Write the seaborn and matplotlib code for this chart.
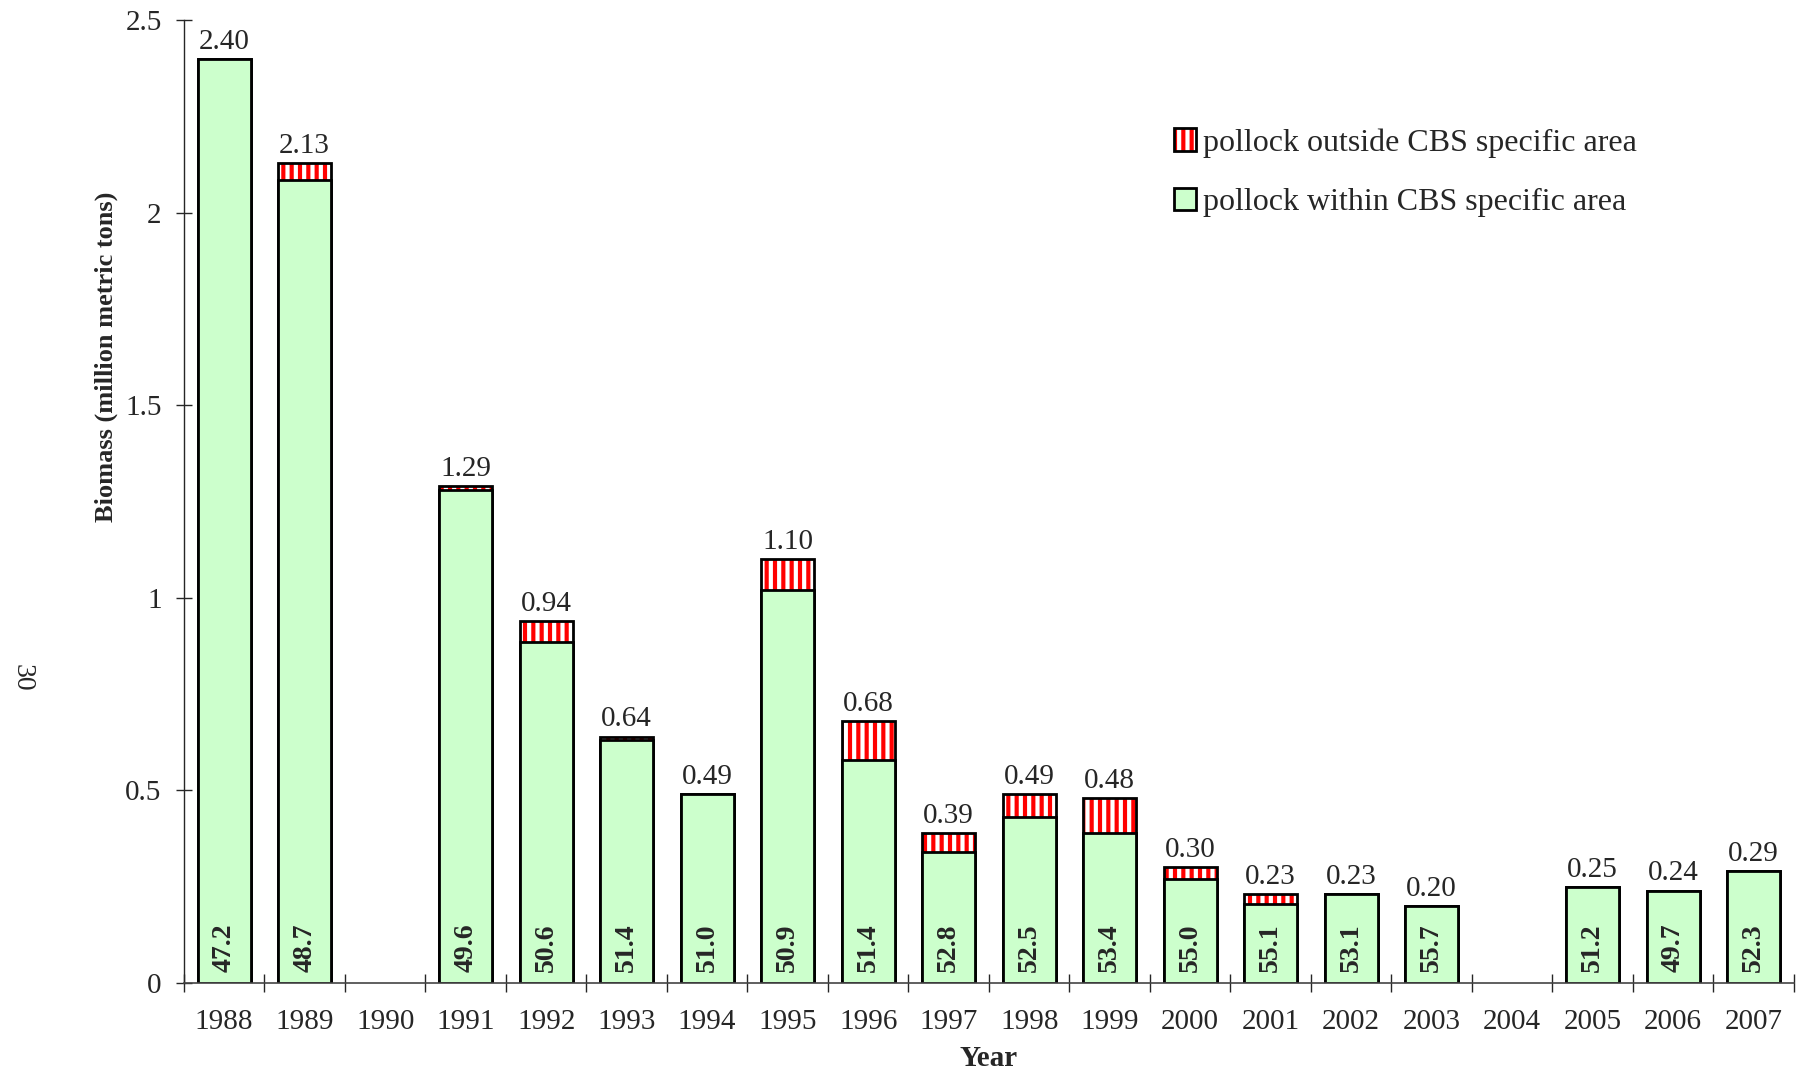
import matplotlib
matplotlib.use("Agg")
import matplotlib.pyplot as plt
import seaborn as sns
import numpy as np
from matplotlib.patches import Patch
from matplotlib.legend_handler import HandlerTuple

# Data
years = ['1988', '1989', '1990', '1991', '1992', '1993', '1994', '1995', '1996', '1997',
         '1998', '1999', '2000', '2001', '2002', '2003', '2004', '2005', '2006', '2007']
total = [2.40, 2.13, np.nan, 1.29, 0.94, 0.64, 0.49, 1.10, 0.68, 0.39,
         0.49, 0.48, 0.30, 0.23, 0.23, 0.20, np.nan, 0.25, 0.24, 0.29]
within = [2.40, 2.085, np.nan, 1.28, 0.885, 0.63, 0.49, 1.02, 0.58, 0.34,
          0.43, 0.39, 0.27, 0.205, 0.23, 0.20, np.nan, 0.25, 0.24, 0.29]
pct = ['47.2', '48.7', '', '49.6', '50.6', '51.4', '51.0', '50.9', '51.4', '52.8',
       '52.5', '53.4', '55.0', '55.1', '53.1', '55.7', '', '51.2', '49.7', '52.3']

sns.set_style("ticks")
plt.rcParams['font.family'] = ['Liberation Serif', 'DejaVu Serif']
plt.rcParams['hatch.linewidth'] = 3.0

green = '#ccffcc'
bw = 0.66

fig = plt.figure(figsize=(18.03, 10.69), dpi=100)
ax = fig.add_axes([0.102, 0.0805, 0.893, 0.9005])

# outside part (red with white stripes), drawn as full total bar
sns.barplot(x=years, y=total, order=years, color='red', saturation=1, width=bw,
            errorbar=None, edgecolor='white', linewidth=0, hatch='||', ax=ax)
# black outline of total bar
sns.barplot(x=years, y=total, order=years, color='black', fill=False, width=bw,
            errorbar=None, linewidth=2, ax=ax)
# within part
sns.barplot(x=years, y=within, order=years, color=green, saturation=1, width=bw,
            errorbar=None, edgecolor='black', linewidth=2, ax=ax)

for i, (t, p) in enumerate(zip(total, pct)):
    if np.isnan(t):
        continue
    ax.annotate(f"{t:.2f}", (i, t), xytext=(0, 3), textcoords='offset points',
                ha='center', va='bottom', fontsize=21)
    ax.annotate(p, (i, 0), xytext=(0, 8), textcoords='offset points',
                ha='center', va='bottom', rotation=90, fontsize=20, fontweight='bold')

ax.set_xlim(-0.5, len(years) - 0.5)
ax.set_ylim(0, 2.5)
ax.set_yticks([0, 0.5, 1, 1.5, 2, 2.5])
ax.set_yticklabels(['0', '0.5', '1', '1.5', '2', '2.5'])
ax.set_xticks(range(len(years)))
ax.set_xticks(np.arange(-0.5, len(years), 1), minor=True)
ax.tick_params(axis='x', which='major', length=0, pad=19, labelsize=21)
ax.tick_params(axis='x', which='minor', direction='inout', length=13, width=1)
ax.tick_params(axis='y', direction='inout', length=12, width=1, pad=10, labelsize=21)
sns.despine(ax=ax)
ax.spines['left'].set_linewidth(1)
ax.spines['bottom'].set_linewidth(1.2)
ax.spines['bottom'].set_color('#444444')

ax.set_xlabel('Year', fontsize=21, fontweight='bold')
ax.xaxis.set_label_coords(0.5, -0.064)
ax.set_ylabel('Biomass (million metric tons)', fontsize=19, fontweight='bold')
ax.yaxis.set_label_coords(-0.041, 0.65)

h_out = (Patch(facecolor='red', edgecolor='white', hatch='||', linewidth=0),
         Patch(facecolor='none', edgecolor='black', linewidth=2))
h_in = Patch(facecolor=green, edgecolor='black', linewidth=2)
fig.legend([h_out, h_in],
           ['pollock outside CBS specific area', 'pollock within CBS specific area'],
           handler_map={tuple: HandlerTuple(ndivide=1, pad=0)},
           loc='upper left', bbox_to_anchor=(0.651, 0.88), frameon=False,
           fontsize=23, handlelength=0.7, handleheight=0.7, handletextpad=0.2,
           labelspacing=0.95, borderpad=0, borderaxespad=0)

fig.text(0.012, 1 - 678 / 1069, '30', rotation=270, fontsize=20, ha='center', va='center')

fig.savefig('out.png', dpi=100)
